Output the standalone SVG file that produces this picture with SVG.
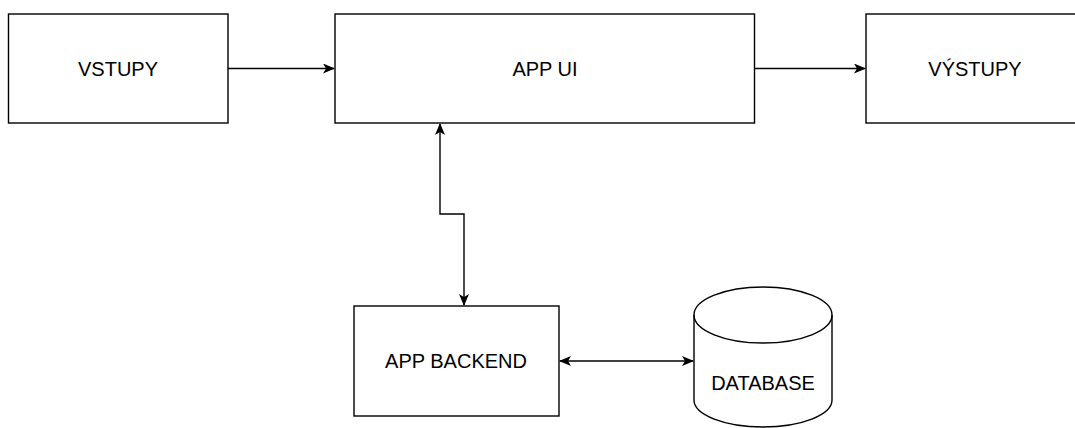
<svg xmlns="http://www.w3.org/2000/svg" width="1075" height="428" viewBox="0 0 1075 428">
<style>
.box{fill:#fff;stroke:#000;stroke-width:1.4}
.lbl{font-family:"Liberation Sans",Arial,sans-serif;font-size:20px;fill:#000;text-anchor:middle}
.edge{fill:none;stroke:#000;stroke-width:1.4}
</style>
<defs>
<marker id="ah" viewBox="0 0 12 10" refX="11" refY="5" markerWidth="12" markerHeight="10" markerUnits="userSpaceOnUse" orient="auto-start-reverse">
<path d="M0,0 L12,5 L0,10 L3,5 Z" fill="#000"/>
</marker>
</defs>
<rect width="1075" height="428" fill="#fff"/>
<g id="vstupy">
<rect class="box" x="8.5" y="14" width="219.5" height="109"/>
<text class="lbl" x="118" y="75.5">VSTUPY</text>
</g>
<g id="app-ui">
<rect class="box" x="335" y="14" width="419.5" height="109"/>
<text class="lbl" x="545" y="75.5">APP UI</text>
</g>
<g id="vystupy">
<rect class="box" x="866" y="14" width="218" height="109"/>
<text class="lbl" x="975" y="75.5">VÝSTUPY</text>
</g>
<g id="app-backend">
<rect class="box" x="354" y="306" width="205" height="110"/>
<text class="lbl" x="456" y="367.5">APP BACKEND</text>
</g>
<g id="database">
<path class="box" d="M694,315 A69,28 0 0 1 832,315 L832,400 A69,27 0 0 1 694,400 Z"/>
<path class="edge" d="M694,315 A69,28 0 0 0 832,315"/>
<text class="lbl" x="763" y="390">DATABASE</text>
</g>
<g id="connectors">
<path class="edge" d="M228,68.5 L334,68.5" marker-end="url(#ah)"/>
<path class="edge" d="M754.5,68.5 L865,68.5" marker-end="url(#ah)"/>
<path class="edge" d="M440,124 L440,214 L464,214 L464,305" marker-start="url(#ah)" marker-end="url(#ah)"/>
<path class="edge" d="M560,361 L693,361" marker-start="url(#ah)" marker-end="url(#ah)"/>
</g>
</svg>
